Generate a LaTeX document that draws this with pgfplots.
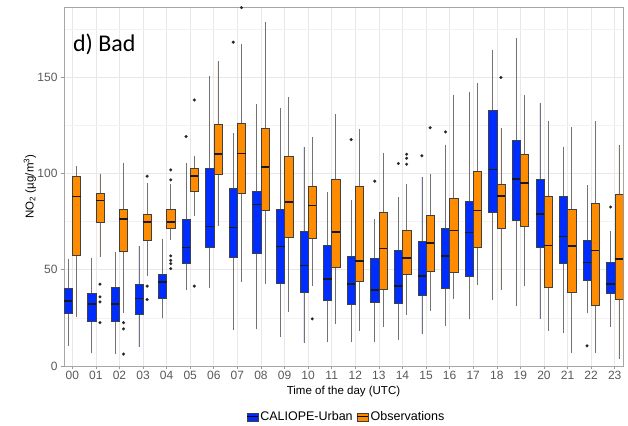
\documentclass[border=0pt]{standalone}
\usepackage{fontspec}
\setmainfont{Liberation Sans}
\newfontfamily\labfont{Carlito}
\usepackage{pgfplots}
\pgfplotsset{compat=1.18}
\usepgfplotslibrary{statistics}
\definecolor{cblue}{RGB}{0,45,255}
\definecolor{corange}{RGB}{255,140,0}
\newcommand{\bx}[8]{\addplot[forget plot, boxplot prepared={draw direction=y, draw position=#1, lower whisker=#2, lower quartile=#3, median=#4, upper quartile=#5, upper whisker=#6, box extend=0.35, whisker extend=0}, fill=#7, draw=black!75, line width=0.45pt, mark=*, mark size=1.5bp, mark options={fill=black!85, draw=black!85, line width=0.1pt, solid}] coordinates {#8};}
\begin{document}
\begin{tikzpicture}
\begin{axis}[
  scale only axis, width=559bp, height=359bp,
  xmin=-0.35, xmax=23.35, ymin=0, ymax=186.5,
  xtick={0,...,23},
  xticklabels={00,01,02,03,04,05,06,07,08,09,10,11,12,13,14,15,16,17,18,19,20,21,22,23},
  ytick={0,50,100,150}, minor ytick={25,75,125,175},
  grid=both,
  major grid style={draw=black!9, line width=0.6pt},
  minor grid style={draw=black!5, line width=0.4pt},
  axis line style={draw=black!35, line width=0.7pt},
  tick align=outside, major tick length=3bp, minor tick length=0pt,
  tick style={draw=black!40, line width=0.6pt},
  xtick pos=lower, ytick pos=left,
  /pgf/number format/assume math mode=true,
  ticklabel style={font=\fontsize{12bp}{14bp}\selectfont, text=black!65},
  xticklabel style={yshift=1bp},
  xlabel={Time of the day (UTC)},
  ylabel={NO\textsubscript{2} (µg/m\textsuperscript{3})},
  xlabel style={at={(axis description cs:0.5,-0.07)}, anchor=center, font=\fontsize{11.5bp}{13bp}\selectfont},
  ylabel style={at={(axis description cs:-0.061,0.5)}, anchor=center, font=\fontsize{11.5bp}{13bp}\selectfont},
  boxplot/every whisker/.style={draw=black!55, line width=0.7pt},
  boxplot/every median/.style={draw=black!90, line width=1.6pt},
  legend style={at={(axis description cs:0.505,-0.142)}, anchor=center, draw=none, fill=none,
    font=\fontsize{12.5bp}{14bp}\selectfont, /tikz/every even column/.append style={column sep=2bp},
    /tikz/every odd column/.append style={column sep=0bp}},
  legend columns=2,
]
\addlegendimage{legend image code/.code={\draw[fill=cblue, draw=black!75, line width=0.4pt] (0bp,-4bp) rectangle (11bp,4bp); \draw[line width=1pt] (0bp,0bp)--(11bp,0bp);}}
\addlegendentry{CALIOPE-Urban}
\addlegendimage{legend image code/.code={\draw[fill=corange, draw=black!75, line width=0.4pt] (0bp,-4bp) rectangle (11bp,4bp); \draw[line width=1pt] (0bp,0bp)--(11bp,0bp);}}
\addlegendentry{Observations}
% hour 00
\bx{-0.175}{10.5}{27.6}{33.7}{40.2}{55.8}{cblue}{}
\bx{0.175}{25.6}{57.3}{88.1}{98.6}{103.8}{corange}{}
% 01
\bx{0.825}{6.6}{23.5}{32.1}{37.7}{56.1}{cblue}{}
\bx{1.175}{56.6}{74.8}{86}{90}{99.5}{corange}{(0,42.5) (0,35.9) (0,33.3) (0,22.5)}
% 02
\bx{1.825}{6.2}{23.3}{32.1}{41.1}{59.2}{cblue}{}
\bx{2.175}{27.3}{59.6}{76.5}{81.3}{105.5}{corange}{(0,22.5) (0,19.3) (0,6.2)}
% 03
\bx{2.825}{10.0}{26.8}{35.1}{42.3}{62.3}{cblue}{}
\bx{3.175}{46.6}{65.6}{74.8}{78.6}{95.2}{corange}{(0,98.6) (0,41.5) (0,34.5)}
% 04
\bx{3.825}{24.7}{35.1}{43.7}{47.7}{66.1}{cblue}{}
\bx{4.175}{65.6}{71.7}{74.8}{81.2}{94.6}{corange}{(0,101.9) (0,96.7) (0,57.2) (0,54.9) (0,53.2) (0,50.6)}
% 05
\bx{4.825}{39.4}{53.2}{61.5}{76.5}{105.4}{cblue}{(0,119.2)}
\bx{5.175}{77.7}{90.7}{98.8}{102.8}{109.3}{corange}{(0,138.2) (0,41.5)}
% 06
\bx{5.825}{40.6}{61.5}{72.5}{102.8}{150.4}{cblue}{}
\bx{6.175}{72.7}{99.7}{110}{125.4}{158.2}{corange}{}
% 07
\bx{6.825}{18.7}{56.6}{72}{92.4}{120.9}{cblue}{(0,168.2)}
\bx{7.175}{43.7}{89.5}{110.4}{125.9}{167.4}{corange}{(0,186.2)}
% 08
\bx{7.825}{19.0}{58.5}{83.8}{90.8}{136.1}{cblue}{}
\bx{8.175}{42.8}{81}{103.3}{123.5}{178.9}{corange}{}
% 09
\bx{8.825}{15.2}{43.2}{62}{81.2}{134}{cblue}{}
\bx{9.175}{28.3}{67}{85.3}{109}{139.7}{corange}{}
% 10
\bx{9.825}{12.1}{38.5}{52.3}{69.8}{114}{cblue}{}
\bx{10.175}{41.6}{66.5}{83.4}{93.6}{118.8}{corange}{(0,24.5)}
% 11
\bx{10.825}{12.3}{34.2}{45.1}{63}{90.5}{cblue}{}
\bx{11.175}{21.6}{51.1}{69.6}{97.2}{130.7}{corange}{}
% 12
\bx{11.825}{12.4}{32.1}{42.5}{57.2}{86.4}{cblue}{(0,117.6)}
\bx{12.175}{18.3}{44}{54.7}{93.4}{123.3}{corange}{}
% 13
\bx{12.825}{12.4}{33.3}{39.6}{56.1}{76.3}{cblue}{(0,96)}
\bx{13.175}{20.4}{40.1}{61.1}{80.1}{110.7}{corange}{}
% 14
\bx{13.825}{13.6}{32.8}{41.6}{60.3}{87.6}{cblue}{(0,105.2)}
\bx{14.175}{26.6}{47.8}{56}{70.3}{94.6}{corange}{(0,110) (0,107.9) (0,104.8)}
% 15
\bx{14.825}{16.6}{36.6}{46.8}{64.9}{98.1}{cblue}{(0,109.2)}
\bx{15.175}{28.5}{49.4}{63.9}{78.2}{99.7}{corange}{(0,123.8)}
% 16
\bx{15.825}{20.7}{40.2}{57}{71.7}{115}{cblue}{(0,121.6)}
\bx{16.175}{34.7}{48.5}{70.3}{87.4}{140.8}{corange}{}
% 17
\bx{16.825}{24.2}{46.6}{69.3}{85.5}{142.5}{cblue}{}
\bx{17.175}{42.3}{61.8}{80.7}{101.4}{146.8}{corange}{}
% 18
\bx{17.825}{34.2}{79.8}{102.1}{133}{164.1}{cblue}{}
\bx{18.175}{39.7}{71.7}{88.4}{94.6}{123.7}{corange}{(0,149.9)}
% 19
\bx{18.825}{31.1}{75.5}{97.1}{117.3}{170.3}{cblue}{}
\bx{19.175}{41.6}{72.5}{95.2}{109.8}{140.8}{corange}{}
% 20
\bx{19.825}{24.2}{61.7}{78.9}{96.9}{136.4}{cblue}{}
\bx{20.175}{18.3}{40.9}{62.5}{88.4}{127.3}{corange}{}
% 21
\bx{20.825}{17.4}{53.2}{67.2}{88.1}{114}{cblue}{}
\bx{21.175}{6.6}{38.5}{62.2}{81.3}{124.2}{corange}{}
% 22
\bx{21.825}{27.3}{44.6}{53.7}{65.6}{93.8}{cblue}{(0,10.5)}
\bx{22.175}{6.6}{31.6}{59.9}{84.8}{127.1}{corange}{}
% 23
\bx{22.825}{20.4}{37.7}{42.7}{54.1}{70.1}{cblue}{(0,82.6)}
\bx{23.175}{3.5}{34.7}{55.6}{89.1}{114.7}{corange}{}
\node[anchor=west, font=\labfont\fontsize{24bp}{28bp}\selectfont, inner sep=0pt] at (axis description cs:0.016,0.897) {d) Bad};
\end{axis}
\pgfresetboundingbox
\path (-64bp,-60bp) rectangle (564bp,366bp);
\end{tikzpicture}
\end{document}
